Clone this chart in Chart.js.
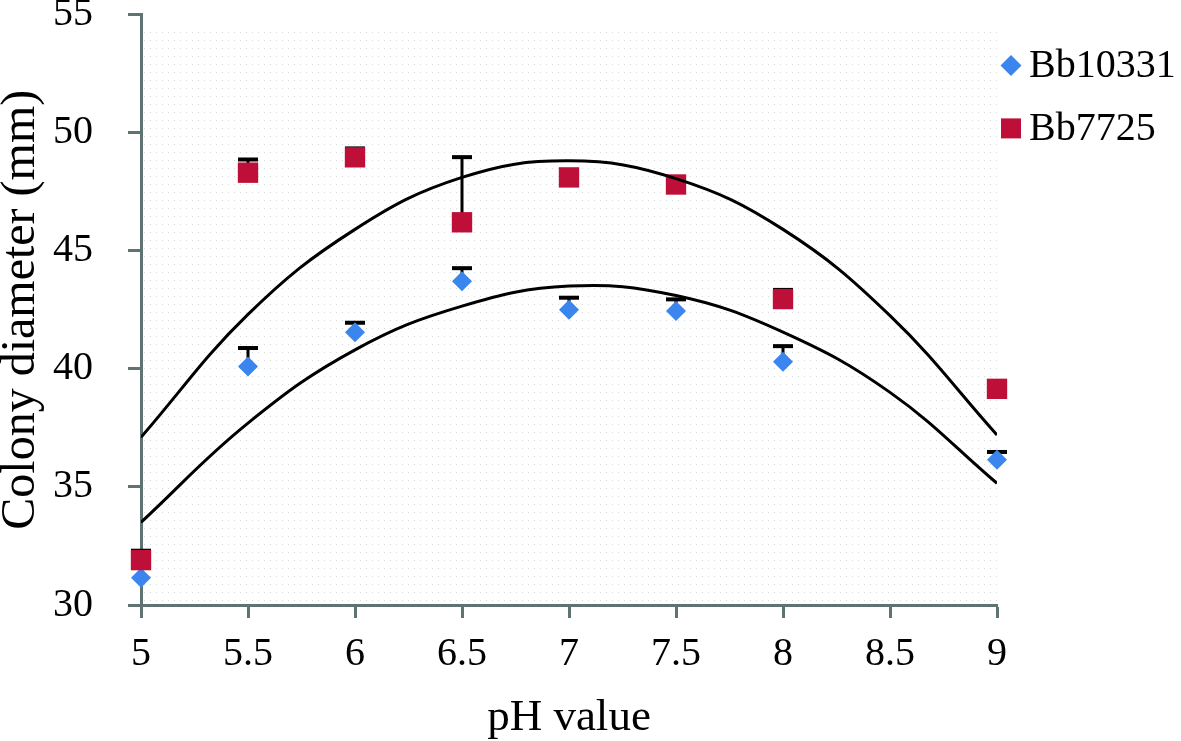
<!DOCTYPE html>
<html>
<head>
<meta charset="utf-8">
<title>Colony diameter vs pH</title>
<script src="https://cdn.jsdelivr.net/npm/chart.js@4.4.1/dist/chart.umd.min.js"></script>
<style>
  html, body { margin: 0; padding: 0; background: #fff; }
  #wrap { width: 1181px; height: 741px; }
</style>
</head>
<body>
<div id="wrap"><canvas id="chart" width="1181" height="741"></canvas></div>
<script>
// pH values (x)
const phValues = [5, 5.5, 6, 6.5, 7, 7.5, 8, 9];

// colony diameter (mm)
const bb10331 = [31.15, 40.1, 41.55, 43.7, 42.5, 42.45, 40.3, 36.15];
const bb10331Err = [0.6, 0.82, 0.44, 0.6, 0.55, 0.53, 0.7, 0.37];

const bb7725 = [31.9, 48.3, 48.95, 46.2, 48.1, 47.8, 42.95, 39.15];
const bb7725Err = [0.44, 0.6, 0.42, 2.8, 0, 0, 0.43, 0];

// polynomial trendlines, sampled from the figure
const trendX = [5, 5.5, 6, 6.5, 7, 7.5, 8, 8.5, 9];
const trend10331 = [33.5, 37.7, 40.8, 42.65, 43.5, 43.1, 41.55, 39.0, 35.15];
const trend7725 = [37.1, 42.3, 45.9, 48.1, 48.8, 48.05, 45.9, 42.25, 37.2];

// axis ticks
const xTicks = [5, 5.5, 6, 6.5, 7, 7.5, 8, 8.5, 9];
const yTicks = [30, 35, 40, 45, 50, 55];

const BLUE = '#3a86ee';
const RED = '#bd0f37';
const AXIS = '#5f7372';
const FONT = "'Liberation Serif', 'Times New Roman', serif";

const toPoints = (xs, ys) => xs.map((x, i) => ({ x: x, y: ys[i] }));

// dotted paper texture behind the plot
function makePattern(ctx) {
  const tile = document.createElement('canvas');
  tile.width = 6;
  tile.height = 8;
  const t = tile.getContext('2d');
  t.fillStyle = 'rgba(160, 175, 175, 0.45)';
  t.fillRect(0, 0, 1, 1);
  return ctx.createPattern(tile, 'repeat');
}

const plotBackground = {
  id: 'plotBackground',
  beforeDraw(chart) {
    const { ctx, chartArea } = chart;
    ctx.save();
    ctx.fillStyle = makePattern(ctx);
    ctx.fillRect(chartArea.left + 2, chartArea.top + 16, chartArea.right - chartArea.left - 2, chartArea.bottom - chartArea.top - 16);
    ctx.restore();
  }
};

// upper error bars with caps
const errorBars = {
  id: 'errorBars',
  beforeDatasetsDraw(chart) {
    const { ctx, scales } = chart;
    ctx.save();
    ctx.fillStyle = '#000';
    chart.data.datasets.forEach(ds => {
      if (!ds.errors) return;
      ds.data.forEach((p, i) => {
        const err = ds.errors[i];
        if (!err) return;
        const x = scales.x.getPixelForValue(p.x);
        const y0 = scales.y.getPixelForValue(p.y);
        const y1 = scales.y.getPixelForValue(p.y + err);
        ctx.fillRect(x - 1.5, y1, 3, y0 - y1);
        ctx.fillRect(x - 10, y1 - 1, 20, 4);
      });
    });
    ctx.restore();
  }
};

// legend to the right of the plot
const sideLegend = {
  id: 'sideLegend',
  afterDraw(chart) {
    const { ctx, chartArea } = chart;
    const x = chartArea.right + 14;
    ctx.save();
    ctx.font = '40px ' + FONT;
    ctx.textBaseline = 'middle';

    let y = chartArea.top + 51;
    ctx.fillStyle = BLUE;
    ctx.beginPath();
    ctx.moveTo(x - 10.5, y);
    ctx.lineTo(x, y - 10.5);
    ctx.lineTo(x + 10.5, y);
    ctx.lineTo(x, y + 10.5);
    ctx.closePath();
    ctx.fill();
    ctx.fillStyle = '#000';
    ctx.fillText('Bb10331', x + 18, y + 1);

    y = chartArea.top + 114;
    ctx.fillStyle = RED;
    ctx.fillRect(x - 10, y - 10, 20, 20);
    ctx.fillStyle = '#000';
    ctx.fillText('Bb7725', x + 18, y + 1);
    ctx.restore();
  }
};

new Chart(document.getElementById('chart'), {
  type: 'scatter',
  data: {
    datasets: [
      {
        label: 'Bb10331',
        data: toPoints(phValues, bb10331),
        errors: bb10331Err,
        pointStyle: 'rectRot',
        pointRadius: 10,
        pointHoverRadius: 10,
        backgroundColor: BLUE,
        borderColor: BLUE,
        borderWidth: 0,
        clip: false,
        order: 2
      },
      {
        label: 'Bb7725',
        data: toPoints(phValues, bb7725),
        errors: bb7725Err,
        pointStyle: 'rect',
        pointRadius: 14.4,
        pointHoverRadius: 14.4,
        backgroundColor: RED,
        borderColor: RED,
        borderWidth: 0,
        clip: false,
        order: 1
      },
      {
        label: 'Trend Bb10331',
        data: toPoints(trendX, trend10331),
        showLine: true,
        tension: 0.4,
        pointRadius: 0,
        borderColor: '#000',
        borderWidth: 3,
        order: 0
      },
      {
        label: 'Trend Bb7725',
        data: toPoints(trendX, trend7725),
        showLine: true,
        tension: 0.4,
        pointRadius: 0,
        borderColor: '#000',
        borderWidth: 3,
        order: 0
      }
    ]
  },
  options: {
    responsive: false,
    animation: false,
    layout: { padding: { top: 14, right: 184, left: 0, bottom: 0 } },
    plugins: {
      legend: { display: false },
      tooltip: { enabled: false }
    },
    scales: {
      x: {
        type: 'linear',
        min: 5,
        max: 9,
        afterBuildTicks: s => { s.ticks = xTicks.map(v => ({ value: v })); },
        afterFit: s => { s.height = 136; s.paddingLeft = 0; s.paddingRight = 0; },
        border: { color: AXIS, width: 3 },
        grid: { drawOnChartArea: false, drawTicks: true, tickLength: 13, tickWidth: 3, color: AXIS },
        ticks: {
          color: '#000',
          padding: 12,
          font: { family: FONT, size: 40 },
          callback: v => String(v)
        },
        title: {
          display: true,
          text: 'pH value',
          color: '#000',
          padding: { top: 0, bottom: 0 },
          font: { family: FONT, size: 45, lineHeight: 1.0 }
        }
      },
      y: {
        min: 30,
        max: 55,
        afterBuildTicks: s => { s.ticks = yTicks.map(v => ({ value: v })); },
        afterFit: s => { s.width = 141; s.paddingTop = 0; s.paddingBottom = 0; },
        border: { color: AXIS, width: 3 },
        grid: { drawOnChartArea: false, drawTicks: true, tickLength: 13, tickWidth: 3, color: AXIS },
        ticks: {
          color: '#000',
          padding: 35,
          font: { family: FONT, size: 40 },
          callback: v => String(v)
        },
        title: {
          display: true,
          text: 'Colony diameter (mm)',
          color: '#000',
          padding: { top: 0, bottom: 0 },
          font: { family: FONT, size: 48, lineHeight: 0.9 }
        }
      }
    }
  },
  plugins: [plotBackground, errorBars, sideLegend]
});
</script>
</body>
</html>
